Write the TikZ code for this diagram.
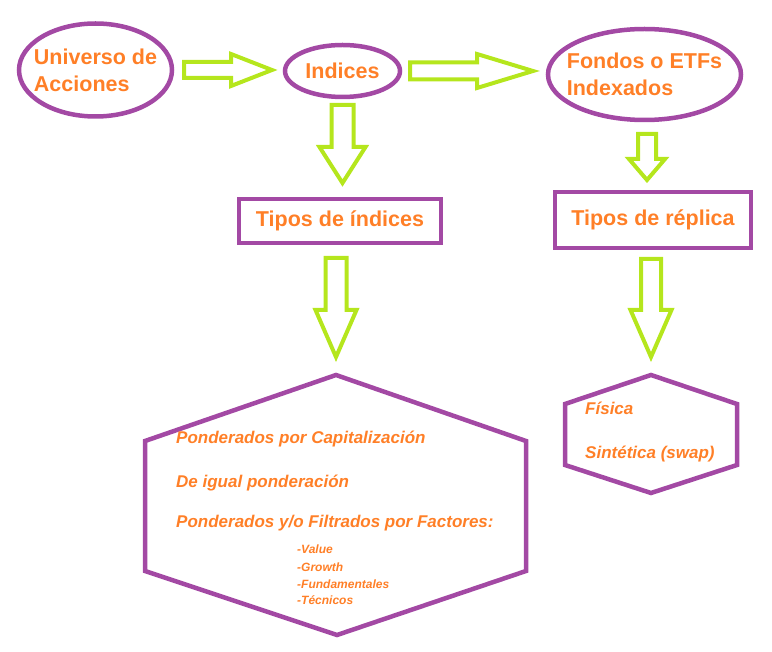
\documentclass[tikz,border=0pt]{standalone}
\usepackage{fontspec}
\setmainfont{Liberation Sans}
\usetikzlibrary{shapes.geometric, calc}
\definecolor{lila}{RGB}{163,73,164}
\definecolor{lima}{RGB}{181,230,29}
\definecolor{naranja}{RGB}{255,127,39}
\tikzset{
    elipse/.style={ellipse, draw=lila, line width=4.5pt, inner xsep=-30pt, inner ysep=-15pt,
        outer sep=0pt, text=naranja, align=left, font=\fontsize{21.5}{27}\selectfont\bfseries},
    caja/.style={rectangle, draw=lila, line width=4.5pt, inner sep=0pt, outer sep=0pt,
        text=naranja, font=\fontsize{21.5}{27}\selectfont\bfseries},
    hexagono/.style={draw=lila, line width=4.5pt, line join=miter},
    flecha/.style={draw=lima, line width=4pt, line join=miter},
    texto/.style={anchor=base west, inner sep=0pt, text=naranja,
        font=\fontsize{17}{20}\selectfont\bfseries\itshape},
    lista/.style={texto, font=\fontsize{12}{14}\selectfont\bfseries\itshape}
}
\newcommand{\flechagorda}[5]{
    \coordinate (s) at #1;
    \coordinate (e) at #2;
    \coordinate (h) at ($(e)!#5!(s)$);
    \draw[flecha] ($(s)!#3!90:(e)$) -- ($(h)!#3!-90:(s)$) -- ($(h)!#4!-90:(s)$) -- (e)
        -- ($(h)!#4!90:(s)$) -- ($(h)!#3!90:(s)$) -- ($(s)!#3!-90:(e)$) -- cycle;
}

\begin{document}
\begin{tikzpicture}[x=1pt, y=-1pt]
    \useasboundingbox (0,0) rectangle (772,652);
    % fila de arriba
    \node[elipse, minimum width=153pt, minimum height=93pt] (univ) at (95.5,70) {Universo de\\Acciones};
    \node[elipse, minimum width=115pt, minimum height=52pt] (ind) at (342.5,71) {Indices};
    \node[elipse, minimum width=193pt, minimum height=91pt] (fond) at (644.5,74.5) {Fondos o ETFs\\Indexados};
    % cajas
    \node[caja, minimum width=202pt, minimum height=44pt] (tipind) at (340,221) {Tipos de índices};
    \node[caja, minimum width=196pt, minimum height=56pt] (tiprep) at (653,220) {Tipos de réplica};
    % hexagonos
    \coordinate (hexA) at (336,375);
    \draw[hexagono] (hexA) -- (526,441) -- (526,571) -- (337,635) -- (145,571) -- (145,441) -- cycle;
    \coordinate (hexB) at (651,375);
    \draw[hexagono] (hexB) -- (737,404) -- (737,465) -- (651,493) -- (565,465) -- (565,404) -- cycle;
    \node[texto] (capit) at (176,444) {Ponderados por Capitalización};
    \node[texto] (igual) at (176,488) {De igual ponderación};
    \node[texto] (factor) at (176,527) {Ponderados y/o Filtrados por Factores:};
    \node[lista] (value) at (297,554) {-Value};
    \node[lista] (growth) at (297,571) {-Growth};
    \node[lista] (fund) at (297,588) {-Fundamentales};
    \node[lista] (tecn) at (297,605) {-Técnicos};
    \node[texto] (fisica) at (585,415) {Física};
    \node[texto] (sintet) at (585,459) {Sintética (swap)};
    % flechas
    \flechagorda{($(univ.east)+(12,0)$)}{($(univ.east -| ind.west)+(-13,0)$)}{8pt}{16pt}{41pt}
    \flechagorda{($(ind.east)+(10,0)$)}{($(ind.east -| fond.west)+(-15,0)$)}{8.5pt}{17pt}{56pt}
    \flechagorda{($(ind.south)+(0,8)$)}{($(ind.south |- tipind.north)+(0,-16)$)}{11pt}{23pt}{36pt}
    \flechagorda{($(tipind.south -| hexA)+(0,15)$)}{($(hexA)+(0,-18)$)}{10.5pt}{20.5pt}{47pt}
    \flechagorda{($(fond.south)+(2.5,14)$)}{($(fond.south |- tiprep.north)+(2.5,-12)$)}{9pt}{18pt}{21pt}
    \flechagorda{($(tiprep.south -| hexB)+(0,11)$)}{($(hexB)+(0,-18)$)}{10pt}{20.5pt}{47pt}
\end{tikzpicture}
\end{document}
